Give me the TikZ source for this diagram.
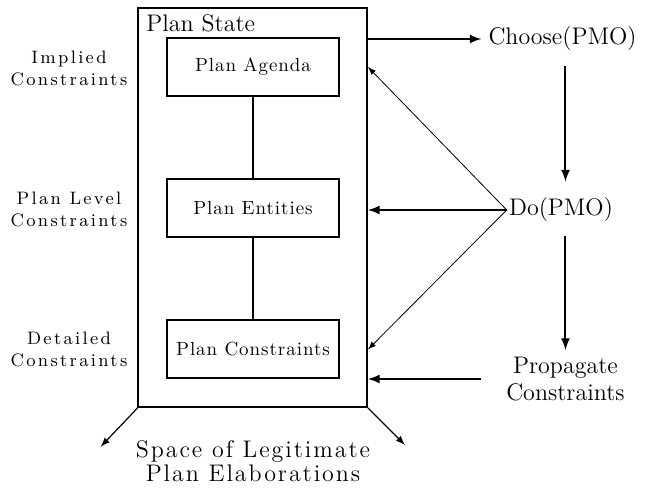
\documentclass[tikz,border=0pt]{standalone}
\usepackage{fontspec}
\newfontfamily\espaciada{lmroman9-regular.otf}[LetterSpace=13]
\newfontfamily\cajafont{lmroman10-regular.otf}[LetterSpace=5]
\newfontfamily\anchafont{lmroman12-regular.otf}[LetterSpace=8]
\usetikzlibrary{arrows}
\begin{document}
\begin{tikzpicture}[x=0.5pt,y=-0.5pt,
    caja/.style={draw, line width=1pt, minimum width=86pt, minimum height=29pt, inner sep=0pt,
      font=\cajafont\fontsize{9.5}{11}\selectfont},
    etiq/.style={align=center, font=\espaciada\fontsize{9}{11}\selectfont},
    grande/.style={align=center, font=\fontsize{12}{13.5}\selectfont}]
        \useasboundingbox (0,0) rectangle (650,492);
        % Estado del plan con sus tres niveles
        \node[draw, line width=1pt, minimum width=114.25pt, minimum height=199.25pt, inner sep=0pt] (state) at (252.75,207.75) {};
        \node[grande, anchor=base west, inner sep=0pt] (statelabel) at (146,32) {Plan State};
        \node[caja] (agenda) at (253,67) {Plan Agenda};
        \node[caja] (entities) at (253,208.5) {Plan Entities};
        \node[caja] (constr) at (253,349.5) {Plan Constraints};
        \draw[line width=1pt] (agenda) -- (entities);
        \draw[line width=1pt] (entities) -- (constr);
        \node[etiq] (implied) at (69,68) {Implied\\Constraints};
        \node[etiq] (level) at (69,209) {Plan Level\\Constraints};
        \node[etiq] (detailed) at (69,349) {Detailed\\Constraints};
        % Operadores sobre el plan
        \node[grande] (choose) at (562.5,39) {Choose(PMO)};
        \node[grande, inner sep=1pt] (do) at (561,210) {Do(PMO)};
        \node[grande] (prop) at (565.5,379) {Propagate\\Constraints};
        \node[grande, font=\anchafont\fontsize{12}{12}\selectfont] (space) at (253,461) {Space of Legitimate\\Plan Elaborations};
        \draw[-latex, line width=1pt] (state.east |- choose.west) -- (choose.west);
        \draw[-latex, line width=1pt, shorten <=4pt, shorten >=7pt] (choose.south -| prop.north) -- (do.north -| prop.north);
        \draw[-latex, line width=1pt, shorten <=6pt] (do.south -| prop.north) -- (prop.north);
        \draw[-latex, line width=1pt] (do.west) -- (state.east |- do.west);
        \draw[-latex, line width=0.4pt] (do.west) -- (state.east |- agenda);
        \draw[-latex, line width=0.4pt] (do.west) -- (state.east |- constr);
        \draw[-latex, line width=1pt, shorten <=9pt] (prop.west) -- (state.east |- prop.west);
        % Salidas hacia el espacio de elaboraciones
        \coordinate (sw) at (100.7,446.7);
        \coordinate (se) at (405,445);
        \draw[-latex, line width=0.6pt] (state.south west) -- (sw);
        \draw[-latex, line width=0.6pt] (state.south east) -- (se);
    \end{tikzpicture}
\end{document}
